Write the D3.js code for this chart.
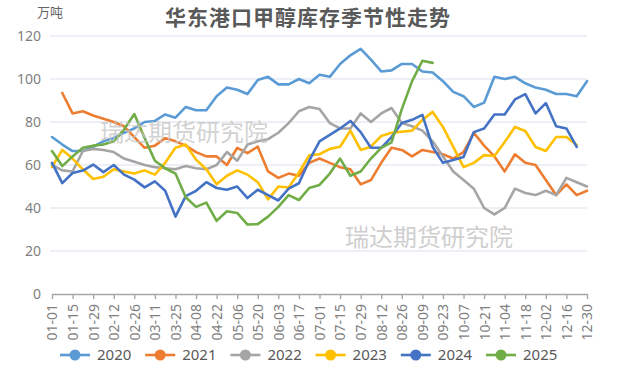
<!DOCTYPE html>
<html lang="zh">
<head>
<meta charset="UTF-8">
<title>华东港口甲醇库存季节性走势</title>
<script src="https://d3js.org/d3.v7.min.js"></script>
<style>
  body { margin: 0; background: #fff; }
  svg { display: block; font-family: "Noto Sans CJK SC", "Noto Sans", sans-serif; }
</style>
</head>
<body>
<svg id="chart" width="617" height="371"></svg>
<script>
// weekly points, 01-01 .. 12-30 (53 weeks), labels every two weeks
const tickLabels = ["01-01","01-15","01-29","02-12","02-26","03-11","03-25","04-08","04-22",
  "05-06","05-20","06-03","06-17","07-01","07-15","07-29","08-12","08-26","09-09","09-23",
  "10-07","10-21","11-04","11-18","12-02","12-16","12-30"];
const years = ["2020", "2021", "2022", "2023", "2024", "2025"];
const colors = ["#5b9bd5", "#ed7d31", "#a5a5a5", "#ffc000", "#4472c4", "#70ad47"];

const y2020 = [73, 69.5, 66.5, 66.5, 68.5, 71, 72.5, 75, 77, 80,
  80.5, 83.5, 82, 87, 85.5, 85.5, 92, 96, 95, 93,
  99.5, 101, 97.5, 97.5, 100, 98, 102, 101, 107, 111,
  114, 109, 103.5, 104, 107, 107, 103.5, 103, 99, 94,
  92, 87, 89, 101, 100, 101, 98, 96, 95, 93,
  93, 92, 99];
const y2021 = [null, 93.5, 84, 85, 83, 81.5, 80, 78, 73, 68,
  69, 72.5, 71, 69, 66, 64, 64, 60, 68, 65.5,
  68.5, 57, 54, 56, 55, 61, 63, 61, 59, 58,
  51, 53, 61, 68, 67, 64, 67, 66, 65, 63,
  66, 75, 69, 64, 57, 65, 61, 60, 53, 46,
  51, 46, 48];
const y2022 = [60, 57.5, 57, 66.5, 67.5, 67, 66, 63, 61.5, 60,
  59, 58.5, 58, 59.5, 58.5, 58, 60, 66, 62, 69.5,
  71, 72, 75, 79.5, 85, 87, 86, 79.5, 77, 77,
  84, 80, 84, 86.5, 79.5, 78, 76, 71, 64, 57,
  53, 49, 40, 37, 40, 49, 47, 46, 48, 46,
  54, 52, 50];
const y2023 = [59, 67, 63, 58, 53.5, 54.5, 58, 57, 56, 57.5,
  55.5, 61, 68, 69.5, 62.5, 58, 51, 55, 57.5, 55.5,
  52, 44, 50, 49.5, 56.5, 64.5, 65, 67.5, 68.5, 76,
  67, 68.5, 73.5, 75, 75.5, 76, 81, 84.7, 77.7, 68.4,
  59, 61, 64.6, 64.2, 70.7, 77.7, 75.8, 68.4, 66.5, 73,
  73, 69.3, null];
const y2024 = [61, 51.6, 56.3, 57.4, 60.2, 56.7, 60, 55.5, 53.2, 49.6,
  52.4, 48, 36, 45.5, 48, 52, 49.3, 48.5, 50, 44.6,
  48.5, 46, 43.5, 49, 51.5, 62, 71, 74, 77, 80.5,
  75.3, 68, 68, 73, 79.5, 81, 83.3, 68.4, 61, 62.3,
  63.7, 75.3, 77, 83.5, 83.5, 90.5, 93, 84, 88.8, 78,
  77, 68.4, null];
const y2025 = [66.5, 59.5, 64, 68, 69, 69.5, 71, 76.5, 83.7, 72.6,
  62, 58.5, 56, 45, 40.5, 42.5, 34, 38.5, 37.7, 32.3,
  32.5, 36, 40.5, 46, 43.7, 49.3, 50.7, 56, 63, 55,
  57, 63, 68, 70.5, 86, 99, 108.5, 107.5];
const seriesValues = [y2020, y2021, y2022, y2023, y2024, y2025];
const yTicks = [0, 20, 40, 60, 80, 100, 120];

const svg = d3.select("#chart");
const plotLeft = 52, plotRight = 587, plotTop = 36, plotBottom = 294;

const x = d3.scaleLinear().domain([0, 52]).range([plotLeft, plotRight]);
const y = d3.scaleLinear().domain([0, 120]).range([plotBottom, plotTop]);

// grid lines
svg.append("g")
  .selectAll("line")
  .data(yTicks.filter(d => d > 0))
  .join("line")
  .attr("x1", plotLeft - 2).attr("x2", plotRight)
  .attr("y1", d => y(d)).attr("y2", d => y(d))
  .attr("stroke", "#e6ebf3")
  .attr("stroke-width", 1.3);

// y labels
svg.append("g")
  .selectAll("text")
  .data(yTicks)
  .join("text")
  .attr("x", 41)
  .attr("y", d => y(d))
  .attr("dy", "0.36em")
  .attr("text-anchor", "end")
  .attr("fill", "#7f7f7f")
  .style("font-size", "14px")
  .style("font-family", "'Noto Sans', sans-serif")
  .text(d => d);

// x axis
const xAxis = d3.axisBottom(x)
  .tickValues(d3.range(0, 53, 2))
  .tickFormat(d => tickLabels[d / 2])
  .tickSize(5)
  .tickSizeOuter(0);

const gx = svg.append("g")
  .attr("transform", `translate(0,${plotBottom})`)
  .call(xAxis);
gx.select(".domain").attr("stroke", "#a6a6a6").attr("stroke-width", 1.6);
gx.selectAll(".tick line").attr("stroke", "#a6a6a6").attr("stroke-width", 1.4);
gx.selectAll(".tick text")
  .attr("transform", "rotate(-90)")
  .attr("x", -10)
  .attr("y", 0)
  .attr("dy", "0.35em")
  .style("text-anchor", "end")
  .style("font-size", "14px")
  .style("font-family", "'Noto Sans', sans-serif")
  .attr("fill", "#7f7f7f");

// lines
const line = d3.line()
  .defined(d => d != null)
  .x((d, i) => x(i))
  .y(d => y(d));

svg.append("g")
  .selectAll("path")
  .data(seriesValues)
  .join("path")
  .attr("d", d => line(d))
  .attr("fill", "none")
  .attr("stroke", (d, i) => colors[i])
  .attr("stroke-width", 2.6)
  .attr("stroke-linejoin", "round")
  .attr("stroke-linecap", "round");

// watermarks
svg.append("text")
  .attr("x", 100).attr("y", 141)
  .attr("fill", "#c4c4c4")
  .attr("opacity", 0.75)
  .style("font-size", "24px")
  .text("瑞达期货研究院");
svg.append("text")
  .attr("x", 345).attr("y", 246)
  .attr("fill", "#cfcfcf")
  .style("font-size", "24px")
  .text("瑞达期货研究院");

// title and unit
svg.append("text")
  .attr("x", 308).attr("y", 25)
  .attr("text-anchor", "middle")
  .attr("fill", "#595959")
  .style("font-size", "21px")
  .style("font-weight", "bold")
  .style("letter-spacing", "1px")
  .text("华东港口甲醇库存季节性走势");
svg.append("text")
  .attr("x", 37).attr("y", 17)
  .attr("fill", "#666")
  .style("font-size", "13px")
  .text("万吨");

// legend
const legend = svg.append("g")
  .selectAll("g")
  .data(years)
  .join("g")
  .attr("transform", (d, i) => `translate(${75 + i * 85.2},355)`);
legend.append("line")
  .attr("x1", -15).attr("x2", 15)
  .attr("stroke", (d, i) => colors[i])
  .attr("stroke-width", 2.6);
legend.append("circle")
  .attr("r", 5.5)
  .attr("fill", (d, i) => colors[i]);
legend.append("text")
  .attr("x", 22)
  .attr("dy", "0.36em")
  .attr("fill", "#595959")
  .style("font-size", "15px")
  .style("font-family", "'Noto Sans', sans-serif")
  .text(d => d);
</script>
</body>
</html>
